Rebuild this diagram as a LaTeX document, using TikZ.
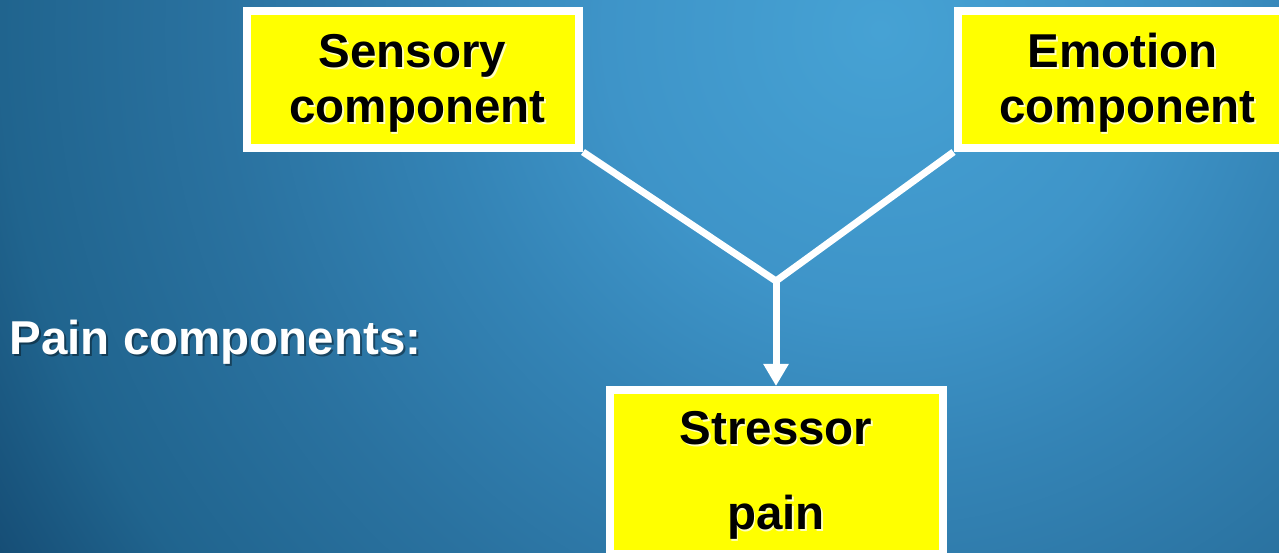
\documentclass[tikz,border=0pt]{standalone}
\usepackage{fontspec}
\setmainfont{Liberation Sans}
\usetikzlibrary{arrows.meta}
\definecolor{bgA}{RGB}{70,162,212}
\definecolor{bgB}{RGB}{62,148,200}
\definecolor{bgC}{RGB}{52,132,182}
\definecolor{bgD}{RGB}{42,114,160}
\definecolor{bgE}{RGB}{32,100,142}
\definecolor{bgF}{RGB}{22,78,118}
\definecolor{bgG}{RGB}{16,68,106}
\definecolor{boxyellow}{RGB}{255,255,0}
\pgfdeclareradialshading{bgshade}{\pgfpoint{0bp}{0bp}}{color(0bp)=(bgA); color(6.25bp)=(bgB); color(10bp)=(bgC); color(15bp)=(bgD); color(20bp)=(bgE); color(23.25bp)=(bgF); color(25bp)=(bgG); color(50bp)=(bgG)}
\begin{document}
\begin{tikzpicture}[x=1pt,y=1pt,
  box/.style={rectangle, draw=white, line width=8pt, fill=boxyellow, inner sep=0pt},
  lbl/.style={font=\bfseries\fontsize{47.5}{55}\selectfont, inner sep=0pt, anchor=base},
  blk/.style={lbl, text=black},
  blksh/.style={lbl, text=white, opacity=0.75},
  wht/.style={lbl, text=white, anchor=base west},
  whtsh/.style={lbl, text=black, opacity=0.4, anchor=base west},
  conn/.style={draw=white, line width=7pt, line join=round}]
\useasboundingbox (0,0) rectangle (1279,553);
\begin{scope}
  \clip (0,0) rectangle (1279,553);
  \shade[shading=bgshade] (880,523) circle (1100);
\end{scope}
% boxes
\node[box, minimum width=332pt, minimum height=137pt] (S) at (413,473.5) {};
\node[box, minimum width=345pt, minimum height=137pt] (E) at (1130,473.5) {};
\node[box, minimum width=333pt, minimum height=164pt] (T) at (776,81) {};
% connectors
\coordinate (J) at (776,272);
\draw[conn] (S.south east) -- (J) -- (E.south west);
\draw[conn, -{Triangle[width=24pt,length=22pt]}] (J) -- (T.north);
% labels with shadows
\node[blksh] (s1sh) at (414,483.5) {Sensory};
\node[blk] (s1) at (412.5,485) {Sensory};
\node[blksh] (s2sh) at (419,428.5) {component};
\node[blk] (s2) at (417.5,430) {component};
\node[blksh] (e1sh) at (1124,483.5) {Emotion};
\node[blk] (e1) at (1122.5,485) {Emotion};
\node[blksh] (e2sh) at (1129,428.5) {component};
\node[blk] (e2) at (1127.5,430) {component};
\node[blksh] (t1sh) at (777.5,106.5) {Stressor};
\node[blk] (t1) at (776,108) {Stressor};
\node[blksh] (t2sh) at (777.5,21.5) {pain};
\node[blk] (t2) at (776,23) {pain};
\node[whtsh] (psh) at (11.5,196) {Pain components:};
\node[wht] (p) at (9.5,198) {Pain components:};
\end{tikzpicture}
\end{document}
